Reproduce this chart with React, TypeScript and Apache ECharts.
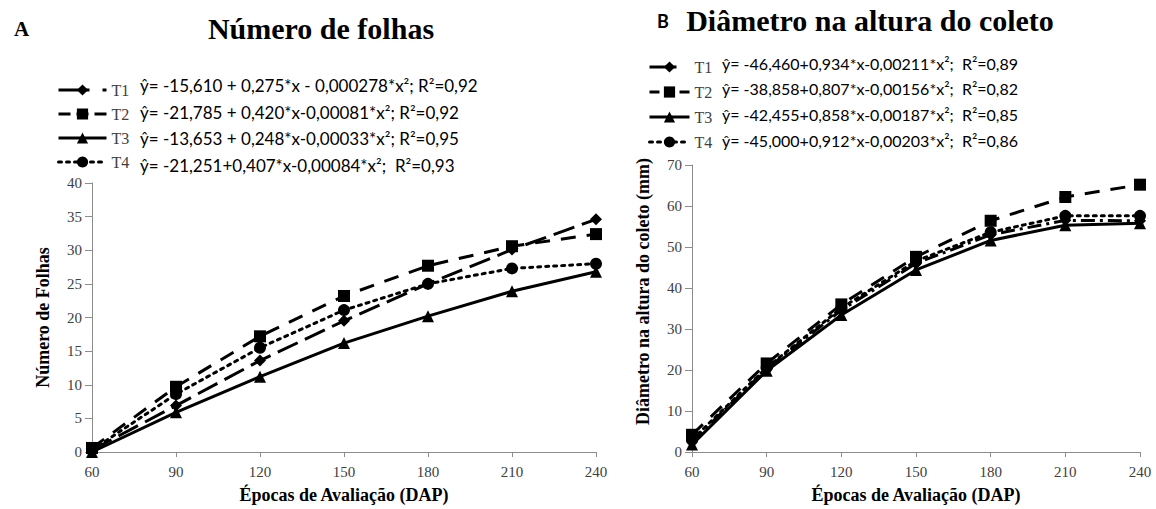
import React, { useEffect, useRef } from "react";
import * as echarts from "echarts";

// Days after planting (x axis)
const days = [60, 90, 120, 150, 180, 210, 240];

// Panel A – Número de folhas
const leafT1 = [0.3, 6.9, 13.6, 19.5, 25.0, 30.1, 34.6];
const leafT2 = [0.6, 9.7, 17.2, 23.2, 27.7, 30.6, 32.4];
const leafT3 = [0.0, 5.9, 11.2, 16.2, 20.2, 23.9, 26.8];
const leafT4 = [0.3, 8.6, 15.5, 21.1, 25.0, 27.3, 28.0];

// Panel B – Diâmetro na altura do coleto (mm)
const diamT1 = [2.5, 20.3, 34.6, 46.0, 53.0, 56.5, 56.4];
const diamT2 = [4.2, 21.6, 36.0, 47.6, 56.4, 62.2, 65.2];
const diamT3 = [1.8, 19.8, 33.4, 44.4, 51.6, 55.3, 55.8];
const diamT4 = [3.0, 20.6, 35.1, 46.6, 53.6, 57.6, 57.6];

const treatments = ["T1", "T2", "T3", "T4"];

const eqA = [
  "ŷ= -15,610 + 0,275*x - 0,000278*x²; R²=0,92",
  "ŷ= -21,785 + 0,420*x-0,00081*x²; R²=0,92",
  "ŷ= -13,653 + 0,248*x-0,00033*x²; R²=0,95",
  "ŷ= -21,251+0,407*x-0,00084*x²;\u00a0 R²=0,93",
];
const eqB = [
  "ŷ= -46,460+0,934*x-0,00211*x²;\u00a0 R²=0,89",
  "ŷ= -38,858+0,807*x-0,00156*x²;\u00a0 R²=0,82",
  "ŷ= -42,455+0,858*x-0,00187*x²;\u00a0 R²=0,85",
  "ŷ= -45,000+0,912*x-0,00203*x²;\u00a0 R²=0,86",
];

const yTicksA = { min: 0, max: 40, interval: 5 };
const yTicksB = { min: 0, max: 70, interval: 10 };

const SERIF = "'Liberation Serif', 'DejaVu Serif', serif";
const SANS = "Lato, 'Noto Sans', sans-serif";

export default function App() {
  const ref = useRef<HTMLDivElement>(null);

  useEffect(() => {
    if (!ref.current) return;
    const chart = echarts.init(ref.current, undefined, { renderer: "svg" });

    const symbols = ["diamond", "rect", "triangle", "circle"];
    const symSizes = [12, 12, 12, 12];
    const typesA: any[] = [[22, 8], [15, 11], "solid", [3, 5]];
    const typesB: any[] = [[14, 5, 3, 5], [15, 11], "solid", [3, 5]];
    const dataA = [leafT1, leafT2, leafT3, leafT4];
    const dataB = [diamT1, diamT2, diamT3, diamT4];

    const mk = (vals: number[], i: number, axis: number, types: any[]) => ({
      type: "line",
      name: treatments[i],
      xAxisIndex: axis,
      yAxisIndex: axis,
      data: days.map((d, k) => [d, vals[k]]),
      symbol: symbols[i],
      symbolSize: symSizes[i],
      showAllSymbol: true,
      lineStyle: { color: "#000", width: 3, type: types[i], cap: i === 3 ? "round" : "butt" },
      itemStyle: { color: "#000" },
      emphasis: { disabled: true },
    });

    const series = [
      ...dataA.map((v, i) => mk(v, i, 0, typesA)),
      ...dataB.map((v, i) => mk(v, i, 1, typesB)),
    ];

    const axisLabel = { fontFamily: SERIF, fontSize: 15, color: "#404040" };
    const axisLine = { show: true, lineStyle: { color: "#8c8c8c", width: 1 } };
    const nameStyle = { fontFamily: SERIF, fontSize: 18, fontWeight: "bold", color: "#000" };

    const xAxisBase = (gi: number) => ({
      type: "value",
      gridIndex: gi,
      min: 60,
      max: 240,
      interval: 30,
      axisLine,
      axisTick: { show: true, length: 5, lineStyle: { color: "#8c8c8c" } },
      axisLabel: { ...axisLabel, margin: 12 },
      splitLine: { show: false },
      name: "Épocas de Avaliação (DAP)",
      nameLocation: "middle",
      nameGap: 34,
      nameTextStyle: nameStyle,
    });

    const legendItems = (lineTypes: any[]) =>
      treatments.map((t, i) => ({ name: t, lineStyle: { type: lineTypes[i], width: 3 } }));

    const eqText = (txt: string, x: number, y: number, size: number) => ({
      type: "text",
      x,
      y,
      style: { text: txt, font: `${size}px ${SANS}`, fill: "#000", verticalAlign: "middle" },
    });

    const option: any = {
      animation: false,
      textStyle: { fontFamily: SERIF },
      grid: [
        { left: 92, right: 560, top: 183, bottom: 52 },
        { left: 692, right: 16, top: 165, bottom: 56 },
      ],
      xAxis: [xAxisBase(0), xAxisBase(1)],
      yAxis: [
        {
          type: "value",
          gridIndex: 0,
          ...yTicksA,
          axisLine,
          axisTick: { show: true, length: 7, lineStyle: { color: "#8c8c8c" } },
          axisLabel: { ...axisLabel, margin: 10 },
          splitLine: { show: false },
          name: "Número de Folhas",
          nameLocation: "middle",
          nameGap: 40,
          nameTextStyle: nameStyle,
        },
        {
          type: "value",
          gridIndex: 1,
          ...yTicksB,
          axisLine,
          axisTick: { show: true, length: 7, lineStyle: { color: "#8c8c8c" } },
          axisLabel: { ...axisLabel, margin: 10 },
          splitLine: { show: false },
          name: "Diâmetro na altura do coleto (mm)",
          nameLocation: "middle",
          nameGap: 40,
          nameTextStyle: { ...nameStyle, padding: [0, 0, 0, 34] },
        },
      ],
      legend: [
        {
          orient: "vertical",
          left: 52,
          top: 77,
          itemWidth: 48,
          itemHeight: 14,
          itemGap: 8,
          selectedMode: false,
          textStyle: { fontFamily: SERIF, fontSize: 16, color: "#404040", lineHeight: 16 },
          data: legendItems([[31, 13], [12, 6], "solid", [3, 5]]),
        },
        {
          orient: "vertical",
          left: 643,
          top: 54,
          itemWidth: 40,
          itemHeight: 14,
          itemGap: 9,
          selectedMode: false,
          textStyle: { fontFamily: SERIF, fontSize: 16, color: "#404040", lineHeight: 16 },
          data: legendItems([[27, 13], [10, 5], "solid", [3, 5]]),
        },
      ],
      graphic: [
        {
          type: "text",
          x: 14,
          y: 29,
          style: { text: "A", font: `bold 21px ${SERIF}`, fill: "#000", verticalAlign: "middle" },
        },
        {
          type: "text",
          x: 321,
          y: 28,
          style: {
            text: "Número de folhas",
            font: `bold 30px ${SERIF}`,
            fill: "#000",
            align: "center",
            verticalAlign: "middle",
          },
        },
        {
          type: "text",
          x: 657,
          y: 21,
          style: { text: "B", font: `bold 18px ${SANS}`, fill: "#000", verticalAlign: "middle" },
        },
        {
          type: "text",
          x: 870,
          y: 20,
          style: {
            text: "Diâmetro na altura do coleto",
            font: `bold 30px ${SERIF}`,
            fill: "#000",
            align: "center",
            verticalAlign: "middle",
          },
        },
        ...eqA.map((t, i) => eqText(t, 140, [85, 112, 138, 165][i], 17)),
        ...eqB.map((t, i) => eqText(t, 722, [63, 88, 114, 140][i], 16)),
      ],
      series,
    };

    chart.setOption(option);
    return () => chart.dispose();
  }, []);

  return (
    <div
      ref={ref}
      style={{ position: "fixed", left: 0, top: 0, width: 1156, height: 509, background: "#fff" }}
    />
  );
}
